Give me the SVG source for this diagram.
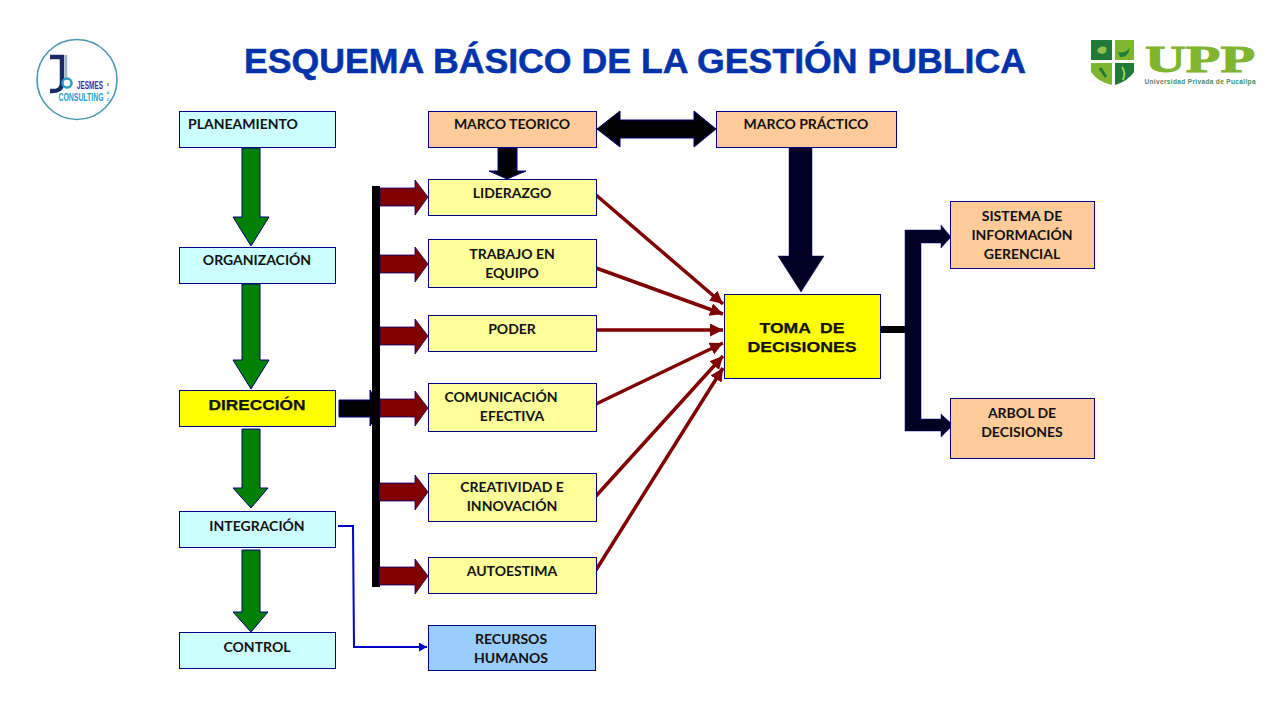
<svg xmlns="http://www.w3.org/2000/svg" width="1280" height="720" viewBox="0 0 1280 720">
<defs>
<marker id="ah" markerUnits="userSpaceOnUse" markerWidth="14" markerHeight="14" refX="13" refY="6.5" orient="auto"><path d="M0 0L13 6.5L0 13Z" fill="#800000"/></marker>
<marker id="bh" markerUnits="userSpaceOnUse" markerWidth="9" markerHeight="10" refX="8" refY="4.5" orient="auto"><path d="M0 0L8 4.5L0 9Z" fill="#0000cc"/></marker>
</defs>
<style>
text{font-family:"Lato","Liberation Sans",sans-serif;font-weight:700;font-size:14px;fill:#111;text-anchor:middle}
.b{stroke:#000080;stroke-width:1}
.cy{fill:#ccffff}.ye{fill:#ffff99}.or{fill:#ffcc99}.bl{fill:#99ccff}
.ar{font-family:"Liberation Sans",Arial,sans-serif;font-size:16.5px;stroke:#111;stroke-width:.25}
.g{fill:#008000;stroke:#000080;stroke-width:1}
.m{fill:#800000;stroke:#000080;stroke-width:.8}
.k{fill:#000;stroke:#000080;stroke-width:1}
.n{fill:#000022;stroke:#000080;stroke-width:.5}
.rl{stroke:#800000;stroke-width:3.500;fill:none;marker-end:url(#ah)}
</style>
<rect width="1280" height="720" fill="#fff"/>
<text x="635" y="73" style="font-family:'Liberation Sans',Arial,sans-serif;font-size:35.500px;fill:#0033aa;stroke:#0033aa;stroke-width:.5" textLength="782" lengthAdjust="spacingAndGlyphs">ESQUEMA BÁSICO DE LA GESTIÓN PUBLICA</text>

<g id="logo-jesmes">
<circle cx="77" cy="79.500" r="40" fill="#fff" stroke="#4a98ae" stroke-width="1.600"/>
<path d="M50 57H62V83Q62 92 50 91" fill="none" stroke="#1a2a66" stroke-width="4.500"/>
<path d="M66 55V78" stroke="#9fb6c8" stroke-width="2.500"/>
<circle cx="67" cy="83" r="4.500" fill="#fff" stroke="#2a9dc8" stroke-width="2.500"/>
<text x="90" y="89" style="font-size:10px;fill:#4a2a99;font-family:'Liberation Sans'" textLength="26" lengthAdjust="spacingAndGlyphs">JESMES</text>
<text x="81" y="101" style="font-size:11px;fill:#22a0cc;font-family:'Liberation Sans'" textLength="45" lengthAdjust="spacingAndGlyphs">CONSULTING</text>
<text x="108" y="86" style="font-size:3.500px;fill:#4a2a99">S</text>
<text x="108" y="93.500" style="font-size:3.500px;fill:#22a0cc">A</text>
<text x="108" y="101" style="font-size:3.500px;fill:#22a0cc">C</text>
</g>
<g id="logo-upp">
<path d="M1091 40H1112V60H1091Z" fill="#1f7a3a"/>
<path d="M1115 40H1134V60H1115Z" fill="#7fb52f"/>
<path d="M1091 63H1112V85Q1098 82 1091 72Z" fill="#7fb52f"/>
<path d="M1115 63H1134V72Q1128 81 1115 85Z" fill="#1f7a3a"/>
<path d="M1097 50Q1100 45 1106 47Q1108 52 1103 54Q1098 54 1097 50Z" fill="#8fc04a"/>
<path d="M1118 52Q1124 54 1130 48Q1128 58 1120 57Z" fill="#1f7a3a"/>
<path d="M1100 68L1106 77" stroke="#1f7a3a" stroke-width="3"/>
<path d="M1122 67Q1126 72 1123 80" stroke="#9fd05a" stroke-width="2" fill="none"/>
<text x="1200" y="72" style="font-family:'Liberation Serif';font-size:38px;fill:#7fb52f;stroke:#7fb52f;stroke-width:1" textLength="110" lengthAdjust="spacingAndGlyphs">UPP</text>
<text x="1200" y="83.500" style="font-family:'Liberation Sans';font-size:6.500px;fill:#4a8a5a" textLength="111">Universidad Privada de Pucallpa</text>
</g>

<g id="connectors">
<path class="g" d="M242 148H260V217H269L251 246L233 217H242Z"/>
<path class="g" d="M242 284H260V360H269L251 389L233 360H242Z"/>
<path class="g" d="M242 429H260V488H268L251 508L233 488H242Z"/>
<path class="g" d="M242 550H260V612H268L251 632L233 612H242Z"/>

<path class="k" d="M498 148H517V171H526L507 179L489 171H498Z"/>
<path class="k" d="M597 129L620 111V120H694V111L716 129L694 147V138H620V147Z"/>
<path class="n" d="M789 148H812V256H824L801 292L778 256H789Z"/>

<path class="k" d="M339 400H370V390L381 408L370 426V417H339Z"/>
<rect x="372" y="186" width="8" height="401" fill="#000"/>
<path class="m" d="M380 188H415V180L428 197L415 215V206H380Z"/>
<path class="m" d="M380 255H415V247L428 264L415 282V273H380Z"/>
<path class="m" d="M380 327H415V319L428 336L415 354V345H380Z"/>
<path class="m" d="M380 399H415V391L428 408L415 426V417H380Z"/>
<path class="m" d="M379 483H415V475L428 492L415 510V501H379Z"/>
<path class="m" d="M379 567H415V559L428 576L415 594V585H379Z"/>

<path class="rl" d="M596 195L723 304"/>
<path class="rl" d="M596 268L723 314"/>
<path class="rl" d="M596 330H723"/>
<path class="rl" d="M596 404L723 343"/>
<path class="rl" d="M596 496L723 356"/>
<path class="rl" d="M596 570L723 368"/>

<path d="M881 326H905V333H881Z" fill="#000"/>
<path class="n" d="M905 230H941V225L951 237L941 248V243H921V419H941V414L953 425L941 437V431H905Z"/>

<path d="M338 526H353L354 647H427" fill="none" stroke="#0000cc" stroke-width="2" marker-end="url(#bh)"/>
</g>

<g id="planeamiento"><rect class="b cy" x="179.500" y="111.500" width="156" height="36"/><text x="243" y="129">PLANEAMIENTO</text></g>
<g id="organizacion"><rect class="b cy" x="179.500" y="247.500" width="156" height="36"/><text x="257" y="265">ORGANIZACIÓN</text></g>
<g id="direccion"><rect class="b" fill="#ffff00" x="179.500" y="390.500" width="156" height="36"/><text class="ar" x="257" y="409.500" textLength="97" lengthAdjust="spacingAndGlyphs" style="font-size:15.500px">DIRECCIÓN</text></g>
<g id="integracion"><rect class="b cy" x="179.500" y="511.500" width="156" height="36"/><text x="257" y="531">INTEGRACIÓN</text></g>
<g id="control"><rect class="b cy" x="179.500" y="632.500" width="156" height="36"/><text x="257" y="652">CONTROL</text></g>

<g id="marco-teorico"><rect class="b or" x="428.500" y="111.500" width="168" height="36"/><text x="512" y="129">MARCO TEORICO</text></g>
<g id="marco-practico"><rect class="b or" x="716.500" y="111.500" width="180" height="36"/><text x="806" y="129">MARCO PRÁCTICO</text></g>
<g id="liderazgo"><rect class="b ye" x="428.500" y="179.500" width="168" height="36"/><text x="512" y="198">LIDERAZGO</text></g>
<g id="trabajo"><rect class="b ye" x="428.500" y="239.500" width="168" height="48"/><text x="512" y="259">TRABAJO EN</text><text x="512" y="278">EQUIPO</text></g>
<g id="poder"><rect class="b ye" x="428.500" y="315.500" width="168" height="36"/><text x="512" y="334">PODER</text></g>
<g id="comunicacion"><rect class="b ye" x="428.500" y="383.500" width="168" height="48"/><text x="501" y="402">COMUNICACIÓN</text><text x="512" y="421">EFECTIVA</text></g>
<g id="creatividad"><rect class="b ye" x="428.500" y="473.500" width="168" height="48"/><text x="512" y="492">CREATIVIDAD E</text><text x="512" y="511">INNOVACIÓN</text></g>
<g id="autoestima"><rect class="b ye" x="428.500" y="557.500" width="168" height="36"/><text x="512" y="576">AUTOESTIMA</text></g>
<g id="recursos"><rect class="b bl" x="428.500" y="625.500" width="167" height="45"/><text x="511" y="644">RECURSOS</text><text x="511" y="663">HUMANOS</text></g>

<g id="toma"><rect class="b" fill="#ffff00" x="724.500" y="294.500" width="156" height="84"/><text class="ar" x="802" y="333" style="white-space:pre;font-size:15.500px" textLength="85" lengthAdjust="spacingAndGlyphs">TOMA  DE</text><text class="ar" x="802" y="352" style="font-size:15.500px" textLength="109" lengthAdjust="spacingAndGlyphs">DECISIONES</text></g>
<g id="sistema"><rect class="b or" x="950.500" y="201.500" width="144" height="67"/><text x="1022" y="221">SISTEMA DE</text><text x="1022" y="240">INFORMACIÓN</text><text x="1022" y="259">GERENCIAL</text></g>
<g id="arbol"><rect class="b or" x="950.500" y="398.500" width="144" height="60"/><text x="1022" y="418">ARBOL DE</text><text x="1022" y="437">DECISIONES</text></g>
</svg>
